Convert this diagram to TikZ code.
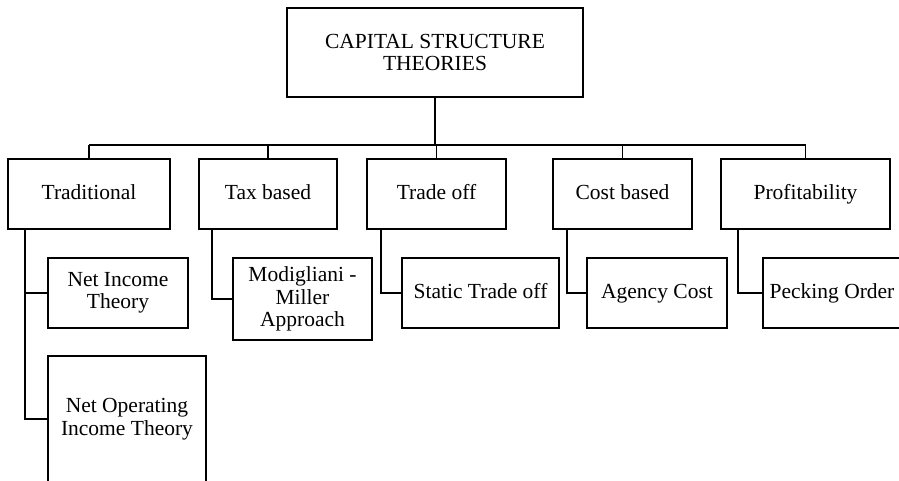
\documentclass[tikz,border=0pt]{standalone}
\usepackage{fontspec}
\setmainfont{Liberation Serif}
\begin{document}
\begin{tikzpicture}[x=1pt,y=-1pt,
  box/.style={draw,line width=1.6pt,inner sep=0pt,outer sep=0pt,align=center,
    font=\fontsize{21.5}{22.5}\selectfont},
  oneline/.style={text height=15pt,text depth=4pt},
  conn/.style={line width=1.6pt},
  trunk/.style={line width=2.8pt}]
\useasboundingbox (0,0) rectangle (899,480);
\clip (0,0) rectangle (899,480);
% top
\node[box,minimum width=296pt,minimum height=89pt] (top) at (435,52.5) {CAPITAL STRUCTURE\\THEORIES};
% level 1
\node[box,oneline,minimum width=162pt,minimum height=70pt] (trad) at (89,194) {Traditional};
\node[box,oneline,minimum width=138pt,minimum height=70pt] (tax) at (268,194) {Tax based};
\node[box,oneline,minimum width=139pt,minimum height=70pt] (trade) at (436.5,194) {Trade off};
\node[box,oneline,minimum width=139pt,minimum height=70pt] (cost) at (622.5,194) {Cost based};
\node[box,oneline,minimum width=169pt,minimum height=70pt] (prof) at (805.5,194) {Profitability};
% level 2
\node[box,minimum width=140pt,minimum height=70pt] (ni) at (118,293) {Net Income\\Theory};
\node[box,minimum width=158pt,minimum height=126pt] (noi) at (127,419) {Net Operating\\Income Theory};
\node[box,minimum width=139pt,minimum height=82pt] (mm) at (302.5,299) {Modigliani -\\Miller\\Approach};
\node[box,oneline,minimum width=157pt,minimum height=70pt] (sto) at (480.5,293) {Static Trade off};
\node[box,oneline,minimum width=140pt,minimum height=70pt] (ag) at (657,293) {Agency Cost};
\node[box,oneline,minimum width=138pt,minimum height=70pt] (po) at (832,293) {Pecking Order};
% bus
\coordinate (busL) at (89,145);
\coordinate (busR) at (806,145);
\draw[trunk] (top.south) -- (top.south |- busL);
\draw[conn] (busL) -- (busR);
\foreach \n in {trad,tax,trade,cost,prof}{
  \draw[conn] (\n.north) -- (\n.north |- busL);
}
% children
\draw[conn] ([xshift=17pt]trad.south west) |- (ni.west);
\draw[conn] ([xshift=17pt]trad.south west) |- (noi.west);
\draw[conn] ([xshift=13pt]tax.south west) |- (mm.west);
\draw[conn] ([xshift=14pt]trade.south west) |- (sto.west);
\draw[conn] ([xshift=14pt]cost.south west) |- (ag.west);
\draw[conn] ([xshift=17pt]prof.south west) |- (po.west);
\end{tikzpicture}
\end{document}
